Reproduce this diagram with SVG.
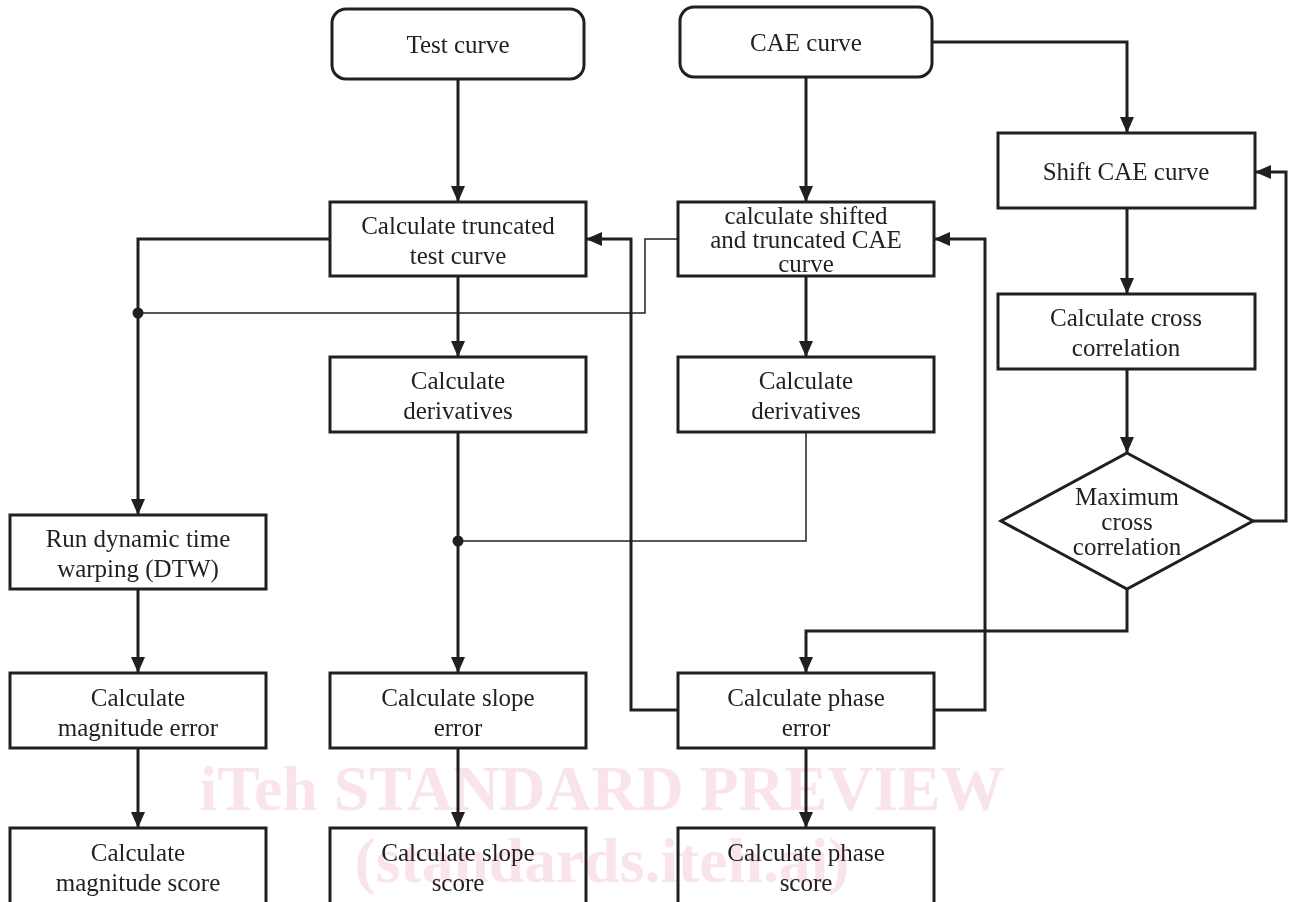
<svg xmlns="http://www.w3.org/2000/svg" width="1296" height="902" viewBox="0 0 1296 902">
<style>
.box{fill:#fff;stroke:#231f20;stroke-width:3}
.t{font-family:"Liberation Serif","DejaVu Serif",serif;font-size:25px;fill:#231f20;text-anchor:middle}
.c{fill:none;stroke:#231f20;stroke-width:3}
.thin{fill:none;stroke:#231f20;stroke-width:1.5}
.wm{font-family:"Liberation Serif",serif;font-weight:bold;font-size:64px;fill:#fae4eb;text-anchor:middle;mix-blend-mode:multiply}
</style>
<defs>
<marker id="ah" viewBox="0 0 16 14" refX="16" refY="7" markerWidth="16" markerHeight="14" markerUnits="userSpaceOnUse" orient="auto">
<path d="M0,0 L16,7 L0,14 z" fill="#231f20"/>
</marker>
</defs>
<rect width="1296" height="902" fill="#fff"/>
<g id="connectors">
<path class="c" d="M458,79 V202" marker-end="url(#ah)"/>
<path class="c" d="M806,77 V202" marker-end="url(#ah)"/>
<path class="c" d="M932,42 H1127 V133" marker-end="url(#ah)"/>
<path class="c" d="M1127,208 V294" marker-end="url(#ah)"/>
<path class="c" d="M1127,369 V453" marker-end="url(#ah)"/>
<path class="c" d="M1253,521 H1286 V172 H1255" marker-end="url(#ah)"/>
<path class="c" d="M1127,589 V631 H806 V673" marker-end="url(#ah)"/>
<path class="c" d="M330,239 H138 V515" marker-end="url(#ah)"/>
<path class="thin" d="M678,239 H645 V313 H138"/>
<circle cx="138" cy="313" r="5.5" fill="#231f20"/>
<path class="c" d="M458,276 V357" marker-end="url(#ah)"/>
<path class="c" d="M806,276 V357" marker-end="url(#ah)"/>
<path class="c" d="M458,432 V673" marker-end="url(#ah)"/>
<path class="thin" d="M806,432 V541 H458"/>
<circle cx="458" cy="541" r="5.5" fill="#231f20"/>
<path class="c" d="M678,710 H631 V239 H586" marker-end="url(#ah)"/>
<path class="c" d="M934,710 H985 V239 H934" marker-end="url(#ah)"/>
<path class="c" d="M138,589 V673" marker-end="url(#ah)"/>
<path class="c" d="M138,748 V828" marker-end="url(#ah)"/>
<path class="c" d="M458,748 V828" marker-end="url(#ah)"/>
<path class="c" d="M806,748 V828" marker-end="url(#ah)"/>
</g>
<g id="test-curve"><rect class="box" x="332" y="9" width="252" height="70" rx="14"/><text class="t" x="458" y="53">Test curve</text></g>
<g id="cae-curve"><rect class="box" x="680" y="7" width="252" height="70" rx="14"/><text class="t" x="806" y="51">CAE curve</text></g>
<g id="trunc-test"><rect class="box" x="330" y="202" width="256" height="74"/><text class="t" x="458" y="234">Calculate truncated</text><text class="t" x="458" y="264">test curve</text></g>
<g id="shift-trunc-cae"><rect class="box" x="678" y="202" width="256" height="74"/><text class="t" x="806" y="224">calculate shifted</text><text class="t" x="806" y="248">and truncated CAE</text><text class="t" x="806" y="272">curve</text></g>
<g id="shift-cae"><rect class="box" x="998" y="133" width="257" height="75"/><text class="t" x="1126" y="180">Shift CAE curve</text></g>
<g id="cross-corr"><rect class="box" x="998" y="294" width="257" height="75"/><text class="t" x="1126" y="326">Calculate cross</text><text class="t" x="1126" y="356">correlation</text></g>
<g id="max-cross"><polygon class="box" points="1127,453 1253,521 1127,589 1001,521"/><text class="t" x="1127" y="505">Maximum</text><text class="t" x="1127" y="530">cross</text><text class="t" x="1127" y="555">correlation</text></g>
<g id="deriv-test"><rect class="box" x="330" y="357" width="256" height="75"/><text class="t" x="458" y="389">Calculate</text><text class="t" x="458" y="419">derivatives</text></g>
<g id="deriv-cae"><rect class="box" x="678" y="357" width="256" height="75"/><text class="t" x="806" y="389">Calculate</text><text class="t" x="806" y="419">derivatives</text></g>
<g id="dtw"><rect class="box" x="10" y="515" width="256" height="74"/><text class="t" x="138" y="547">Run dynamic time</text><text class="t" x="138" y="577">warping (DTW)</text></g>
<g id="mag-error"><rect class="box" x="10" y="673" width="256" height="75"/><text class="t" x="138" y="706">Calculate</text><text class="t" x="138" y="736">magnitude error</text></g>
<g id="slope-error"><rect class="box" x="330" y="673" width="256" height="75"/><text class="t" x="458" y="706">Calculate slope</text><text class="t" x="458" y="736">error</text></g>
<g id="phase-error"><rect class="box" x="678" y="673" width="256" height="75"/><text class="t" x="806" y="706">Calculate phase</text><text class="t" x="806" y="736">error</text></g>
<g id="mag-score"><rect class="box" x="10" y="828" width="256" height="80"/><text class="t" x="138" y="861">Calculate</text><text class="t" x="138" y="891">magnitude score</text></g>
<g id="slope-score"><rect class="box" x="330" y="828" width="256" height="80"/><text class="t" x="458" y="861">Calculate slope</text><text class="t" x="458" y="891">score</text></g>
<g id="phase-score"><rect class="box" x="678" y="828" width="256" height="80"/><text class="t" x="806" y="861">Calculate phase</text><text class="t" x="806" y="891">score</text></g>
<g id="watermark">
<text class="wm" x="602" y="810" textLength="805" lengthAdjust="spacingAndGlyphs">iTeh STANDARD PREVIEW</text>
<text class="wm" x="602" y="882" textLength="495" lengthAdjust="spacingAndGlyphs">(standards.iteh.ai)</text>
</g>
</svg>
